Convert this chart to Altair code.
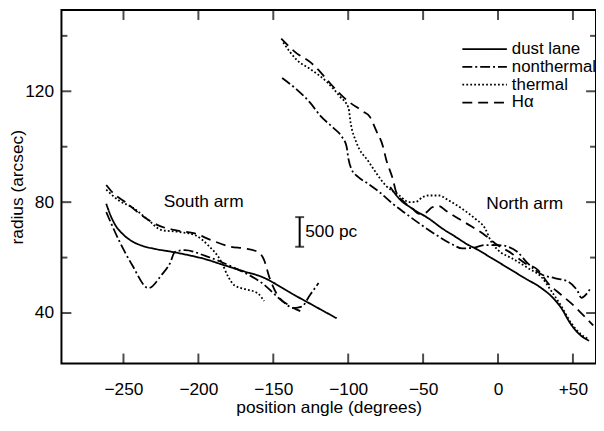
import altair as alt
import pandas as pd

FONT = "Liberation Sans"

series_names = ["dust lane", "nonthermal", "thermal", "Hα"]
dash_patterns = [[1, 0], [10, 3, 2, 3], [1.8, 2.2], [10, 6]]

# ---- South arm ----
south_dust_x = [-261.5, -258.6, -255.3, -250.9, -244.3, -237.7, -228.8, -217.9, -206.8, -195.8, -184.8, -169.4, -158.4, -136.3, -107.7]
south_dust_y = [79.4, 75.2, 71.6, 68.7, 65.9, 64.3, 63.1, 62.1, 60.9, 59.5, 57.6, 55.0, 53.2, 46.6, 38.1]

south_nonth_x = [-261.5, -253.1, -244.3, -233.3, -224.5, -218.9, -215.6, -209.0, -195.8, -178.4, -156.1, -145.2, -136.3, -131.0, -125.5, -119.8]
south_nonth_y = [76.4, 66.3, 57.4, 49.0, 53.8, 58.0, 62.1, 62.7, 60.7, 56.9, 50.2, 44.9, 41.8, 42.3, 46.5, 50.8]

south_therm_x = [-261.5, -253.1, -244.3, -233.3, -224.5, -213.5, -202.4, -193.6, -184.8, -180.0, -176.0, -169.4, -160.6, -156.1]
south_therm_y = [84.5, 80.6, 78.2, 73.5, 69.9, 69.3, 68.1, 64.5, 58.6, 53.0, 50.0, 48.7, 47.2, 44.3]

south_ha_x = [-261.5, -257.5, -248.7, -237.7, -226.7, -215.6, -202.4, -191.4, -178.2, -169.4, -160.6, -156.1, -152.8, -147.4, -138.6, -132.0]
south_ha_y = [86.2, 83.6, 80.0, 75.2, 71.6, 69.9, 68.7, 66.3, 63.9, 63.3, 62.1, 59.1, 53.2, 46.6, 42.5, 40.7]

# ---- North arm ----
north_dust_x = [-72.0, -65.9, -57.0, -46.0, -37.2, -28.4, -19.6, -15.2, -4.2, 6.8, 17.8, 28.9, 35.5, 42.1, 48.7, 55.4, 60.8]
north_dust_y = [85.5, 81.2, 77.6, 74.0, 70.5, 67.5, 64.5, 63.3, 59.8, 56.2, 52.6, 49.0, 46.1, 41.9, 35.9, 31.8, 30.0]

north_nonth_x = [-144.1, -134.1, -125.3, -118.7, -109.9, -104.4, -101.1, -99.8, -97.8, -93.2, -87.9, -79.1, -70.2, -61.4, -50.4, -41.6, -30.6, -24.0, -17.3, -8.5, 0.2, 6.8, 12.6, 19.9, 28.9, 37.7, 46.5, 53.1, 55.6, 59.7, 62.2]
north_nonth_y = [124.8, 120.5, 115.8, 111.2, 106.8, 103.7, 100.1, 95.5, 91.9, 89.0, 87.1, 83.6, 79.4, 75.8, 71.5, 68.3, 64.8, 63.3, 63.5, 64.5, 64.5, 63.9, 62.2, 57.9, 54.0, 52.6, 51.4, 47.9, 45.5, 47.3, 49.4]

north_therm_x = [-143.4, -134.1, -125.3, -114.3, -105.5, -99.8, -98.4, -94.5, -86.6, -74.7, -65.9, -59.3, -54.8, -50.4, -46.0, -39.4, -32.8, -24.0, -15.2, -8.6, -4.6, 0.2, 9.1, 20.1, 28.9, 35.5, 42.1, 48.7, 55.4, 60.8]
north_therm_y = [137.6, 131.2, 128.0, 123.4, 118.1, 114.0, 108.7, 101.5, 94.8, 85.9, 82.4, 80.0, 80.1, 81.8, 82.4, 82.4, 80.6, 77.6, 74.0, 70.5, 65.8, 62.6, 59.8, 56.2, 53.0, 48.0, 42.6, 36.5, 32.3, 30.5]

north_ha_x = [-144.7, -134.1, -125.3, -118.7, -112.1, -101.1, -90.1, -85.7, -81.3, -76.8, -74.7, -70.2, -68.0, -62.8, -57.0, -52.6, -48.2, -43.8, -39.4, -35.0, -26.2, -17.3, -8.5, -1.9, 9.1, 17.9, 26.7, 33.3, 42.1, 50.9, 57.5, 63.5]
north_ha_y = [139.0, 133.6, 130.5, 127.0, 122.9, 116.9, 112.7, 110.9, 105.8, 100.1, 95.5, 88.3, 83.7, 80.1, 77.6, 75.8, 76.2, 78.2, 78.6, 77.0, 74.0, 71.1, 68.0, 65.1, 61.5, 58.0, 55.5, 50.8, 46.6, 42.5, 38.9, 35.5]

# ---- annotations / axes ----
annot_text = ["South arm", "North arm"]
annot_x = [-196.5, 17.8]
annot_y = [80.0, 79.4]

scalebar_x = -132.4
scalebar_y = [63.9, 74.6]
scalebar_label = "500 pc"
scalebar_label_x = -128.7
scalebar_label_y = 69.3

xtick_vals = [-250, -200, -150, -100, -50, 0, 50]
ytick_major = [40, 80, 120]
ytick_minor = [60, 100, 140]

X_DOMAIN = [-291.4, 65.4]
Y_DOMAIN = [21.8, 149.3]

rows = []
def add(series, arm, xs, ys):
    for x, y in zip(xs, ys):
        rows.append({"series": series, "arm": arm, "x": x, "y": y})

add("dust lane", "S", south_dust_x, south_dust_y)
add("nonthermal", "S", south_nonth_x, south_nonth_y)
add("thermal", "S", south_therm_x, south_therm_y)
add("Hα", "S", south_ha_x, south_ha_y)
add("dust lane", "N", north_dust_x, north_dust_y)
add("nonthermal", "N", north_nonth_x, north_nonth_y)
add("thermal", "N", north_therm_x, north_therm_y)
add("Hα", "N", north_ha_x, north_ha_y)
df = pd.DataFrame(rows)

xs = alt.Scale(domain=X_DOMAIN, nice=False, zero=False)
ys = alt.Scale(domain=Y_DOMAIN, nice=False, zero=False)

x_axis = alt.Axis(
    values=xtick_vals, title="position angle (degrees)",
    labelExpr="datum.value > 0 ? '+' + datum.label : datum.label",
    ticks=False, tickSize=0, domain=False, grid=False,
    labelFont=FONT, labelFontSize=17.5, labelColor="black", labelPadding=17,
    titleFont=FONT, titleFontSize=17.5, titleColor="black", titleFontWeight="normal", titlePadding=1)
y_axis = alt.Axis(
    values=ytick_major, title="radius (arcsec)",
    ticks=False, tickSize=0, domain=False, grid=False,
    labelFont=FONT, labelFontSize=17.5, labelColor="black", labelPadding=8,
    titleFont=FONT, titleFontSize=17.5, titleColor="black", titleFontWeight="normal", titlePadding=-2)


def X(field):
    return alt.X(field, type="quantitative", scale=xs, axis=x_axis)


def Y(field):
    return alt.Y(field, type="quantitative", scale=ys, axis=y_axis)


def XD(v):
    return alt.XDatum(v, type="quantitative", scale=xs, axis=x_axis)


def YD(v):
    return alt.YDatum(v, type="quantitative", scale=ys, axis=y_axis)


lines = alt.Chart(df).mark_line(color="black", strokeWidth=1.8, interpolate="monotone").encode(
    x=X("x"),
    y=Y("y"),
    strokeDash=alt.StrokeDash("series:N", scale=alt.Scale(domain=series_names, range=dash_patterns),
        legend=alt.Legend(title=None, orient="none", legendX=404, legendY=31, padding=0,
                          symbolType="stroke", symbolSize=2025, symbolStrokeWidth=1.8,
                          symbolStrokeColor="black", labelFont=FONT, labelFontSize=17,
                          labelColor="black", rowPadding=0, clipHeight=16.8, labelOffset=4)),
    detail="arm:N",
)

xt = pd.DataFrame({"x": xtick_vals})
tick_bottom = alt.Chart(xt).mark_tick(orient="vertical", size=10, thickness=2, color="black", yOffset=-5).encode(
    x=X("x"), y=YD(Y_DOMAIN[0]))
tick_top = alt.Chart(xt).mark_tick(orient="vertical", size=10, thickness=2, color="black", yOffset=5).encode(
    x=X("x"), y=YD(Y_DOMAIN[1]))

ytM = pd.DataFrame({"y": ytick_major})
ytm = pd.DataFrame({"y": ytick_minor})
tick_left_M = alt.Chart(ytM).mark_tick(orient="horizontal", size=10, thickness=2, color="black", xOffset=5).encode(
    y=Y("y"), x=XD(X_DOMAIN[0]))
tick_right_M = alt.Chart(ytM).mark_tick(orient="horizontal", size=10, thickness=2, color="black", xOffset=-5).encode(
    y=Y("y"), x=XD(X_DOMAIN[1]))
tick_left_m = alt.Chart(ytm).mark_tick(orient="horizontal", size=6, thickness=2, color="black", xOffset=3).encode(
    y=Y("y"), x=XD(X_DOMAIN[0]))
tick_right_m = alt.Chart(ytm).mark_tick(orient="horizontal", size=6, thickness=2, color="black", xOffset=-3).encode(
    y=Y("y"), x=XD(X_DOMAIN[1]))

ann = pd.DataFrame({"t": annot_text, "x": annot_x, "y": annot_y})
annots = alt.Chart(ann).mark_text(font=FONT, fontSize=17.5, color="black", align="center", baseline="middle").encode(
    x=X("x"), y=Y("y"), text="t:N")

sb = pd.DataFrame({"x": [scalebar_x], "y": [scalebar_y[0]], "y2": [scalebar_y[1]]})
sb_rule = alt.Chart(sb).mark_rule(color="black", strokeWidth=2).encode(
    x=X("x"), y=Y("y"), y2="y2:Q")
sb_ends = alt.Chart(pd.DataFrame({"x": [scalebar_x] * 2, "y": scalebar_y})).mark_tick(
    orient="horizontal", size=9, thickness=2, color="black").encode(x=X("x"), y=Y("y"))
sb_text = alt.Chart(pd.DataFrame({"t": [scalebar_label], "x": [scalebar_label_x], "y": [scalebar_label_y]})).mark_text(
    font=FONT, fontSize=17.5, color="black", align="left", baseline="middle").encode(
    x=X("x"), y=Y("y"), text="t:N")

chart = alt.layer(
    lines, tick_bottom, tick_top, tick_left_M, tick_right_M, tick_left_m, tick_right_m,
    annots, sb_rule, sb_ends, sb_text
).properties(
    width=540, height=357,
    padding={"left": 54, "top": 0, "right": 0, "bottom": 53},
    autosize="none",
    background="white",
).configure_view(stroke="black", strokeWidth=2)

chart.save("out.html", embed_options={"renderer": "svg", "actions": False})
